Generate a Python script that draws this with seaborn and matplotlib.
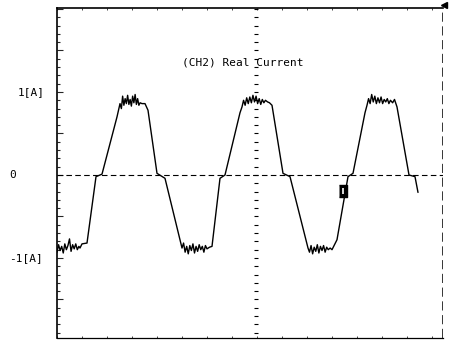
import numpy as np
import pandas as pd
import seaborn as sns
import matplotlib.pyplot as plt
from matplotlib.ticker import MultipleLocator

time_ms = [0, 0.25, 0.5, 0.75, 1.0, 1.25, 1.5, 1.75, 2.0, 2.25, 2.5, 2.75, 3.0, 3.25, 3.5, 3.68,
           4.0, 4.8, 6.24, 7.2, 9.6, 10.08,
           10.3, 10.5, 10.7, 10.9, 11.1, 11.3, 11.5, 11.7, 11.9, 12.1, 12.3, 12.5, 12.7, 12.9, 13.1, 13.3, 13.6, 14.08,
           14.56, 16.0, 17.28, 20.0,
           20.25, 20.5, 20.75, 21.0, 21.25, 21.5, 21.75, 22.0, 22.25, 22.5, 22.75, 23.0, 23.25, 23.5, 23.75, 24.0, 24.4, 24.8,
           26.08, 26.88, 29.28, 29.6,
           29.85, 30.1, 30.35, 30.6, 30.85, 31.1, 31.35, 31.6, 31.85, 32.1, 32.35, 32.6, 32.85, 33.1, 33.35, 33.7, 34.0, 34.4,
           36.16, 37.28, 40.16,
           40.4, 40.65, 40.9, 41.15, 41.4, 41.65, 41.9, 42.15, 42.4, 42.65, 42.9, 43.15, 43.4, 43.7, 44.0,
           44.8, 46.56, 47.36, 49.28, 49.6,
           49.85, 50.1, 50.35, 50.6, 50.85, 51.1, 51.35, 51.6, 51.85, 52.1, 52.35, 52.6, 52.85, 53.1, 53.35, 53.7, 54.0, 54.4,
           56.32, 57.28, 57.76]
current_a = [-0.93, -0.84, -0.91, -0.86, -0.94, -0.83, -0.90, -0.85, -0.77, -0.92, -0.84, -0.89, -0.83, -0.90, -0.86, -0.88,
             -0.83, -0.82, -0.02, 0.01, 0.70, 0.86,
             0.80, 0.95, 0.84, 0.92, 0.86, 0.96, 0.85, 0.91, 0.83, 0.95, 0.87, 0.97, 0.85, 0.92, 0.84, 0.87, 0.86, 0.86,
             0.78, 0.02, -0.04, -0.88,
             -0.82, -0.93, -0.86, -0.95, -0.85, -0.91, -0.83, -0.94, -0.86, -0.92, -0.84, -0.90, -0.86, -0.93, -0.85, -0.89, -0.87, -0.86,
             -0.04, 0.0, 0.75, 0.82,
             0.90, 0.84, 0.93, 0.86, 0.94, 0.87, 0.96, 0.88, 0.95, 0.86, 0.92, 0.85, 0.91, 0.87, 0.90, 0.88, 0.87, 0.84,
             0.02, -0.02, -0.88,
             -0.93, -0.85, -0.95, -0.87, -0.92, -0.84, -0.94, -0.86, -0.91, -0.85, -0.93, -0.87, -0.90, -0.88, -0.90,
             -0.78, -0.02, 0.02, 0.75, 0.84,
             0.92, 0.86, 0.97, 0.88, 0.95, 0.86, 0.93, 0.87, 0.94, 0.86, 0.91, 0.88, 0.92, 0.86, 0.90, 0.87, 0.91, 0.82,
             0.0, -0.02, -0.21]

# cursor (marca negra)
cursor_t = 45.76
cursor_i = -0.19

ytick_vals = [1, 0, -1]
ytick_labels = ["1[A]", "0", "-1[A]"]
ytick_xpos = [-0.067, -0.114, -0.080]

df = pd.DataFrame({"t": time_ms, "I": current_a})

sns.set_style("white")
plt.rcParams['font.family'] = ['DejaVu Sans Mono', 'DejaVu Sans']

fig = plt.figure(figsize=(4.52, 3.40), dpi=100)
ax = fig.add_axes([57 / 452, 2 / 340, 386 / 452, 330 / 340])

ax.set_xlim(0, 61.76)
ax.set_ylim(-1.964, 2.012)

# reticula: linea de cero y eje central con marcas
ax.axhline(0, color="black", lw=0.8, ls=(0, (5, 3)), zorder=1)
grat_y = np.arange(-1.9, 2.01, 0.1)
ax.plot(np.full(len(grat_y), 31.84), grat_y, ls="none", marker="_", ms=3.5, mew=0.8, color="black", zorder=1)

sns.lineplot(data=df, x="t", y="I", estimator=None, sort=False, color="black", lw=1.0, ax=ax, zorder=3)

# cursor
rect = [(-2, -3), (2, -3), (2, 3), (-2, 3)]
ax.plot([cursor_t], [cursor_i], marker=rect, ms=9, color="black", ls="none", zorder=4)
ax.plot([cursor_t], [cursor_i], marker="|", ms=4, mew=1.2, color="white", ls="none", zorder=5)

ax.text(0.482, 0.836, "(CH2) Real Current", transform=ax.transAxes,
        ha="center", va="center", fontsize=8, color="black")

for v, lab, xp in zip(ytick_vals, ytick_labels, ytick_xpos):
    ax.text(xp, v, lab, transform=ax.get_yaxis_transform(), ha="center", va="center",
            fontsize=8, color="black")

# marco
for s in ["left", "top", "bottom"]:
    ax.spines[s].set_visible(True)
    ax.spines[s].set_color("black")
ax.spines["left"].set_linewidth(1.2)
ax.spines["top"].set_linewidth(1.2)
ax.spines["bottom"].set_linewidth(0.9)
ax.spines["right"].set_visible(False)
ax.axvline(61.76, color="black", lw=1.1, ls=(0, (6, 3)), zorder=2)

ax.yaxis.set_major_locator(MultipleLocator(0.5))
ax.yaxis.set_minor_locator(MultipleLocator(0.1))
ax.xaxis.set_major_locator(MultipleLocator(4))
ax.tick_params(axis="y", which="major", direction="in", length=4, width=0.8, left=True, right=False, labelleft=False)
ax.tick_params(axis="y", which="minor", direction="in", length=2.5, width=0.8, left=True, right=False)
ax.tick_params(axis="x", which="both", direction="in", length=1.5, width=0.6, top=True, bottom=True,
               labelbottom=False)
ax.set_xlabel("")
ax.set_ylabel("")

# eje derecho recortado
ax2 = ax.twinx()
ax2.set_ylim(ax.get_ylim())
for s in ["left", "top", "bottom"]:
    ax2.spines[s].set_visible(False)
ax2.spines["right"].set_visible(True)
ax2.spines["right"].set_position(("outward", 6))
ax2.spines["right"].set_linewidth(0.7)
ax2.spines["right"].set_color("black")
ax2.yaxis.set_major_locator(MultipleLocator(0.5))
ax2.yaxis.set_minor_locator(MultipleLocator(0.1))
ax2.tick_params(axis="y", which="both", direction="out", length=2, width=0.7, labelright=False)

ax.plot([1.003], [1.009], marker="<", ms=5, color="black", transform=ax.transAxes, clip_on=False)

fig.savefig("out.png", dpi=100)
